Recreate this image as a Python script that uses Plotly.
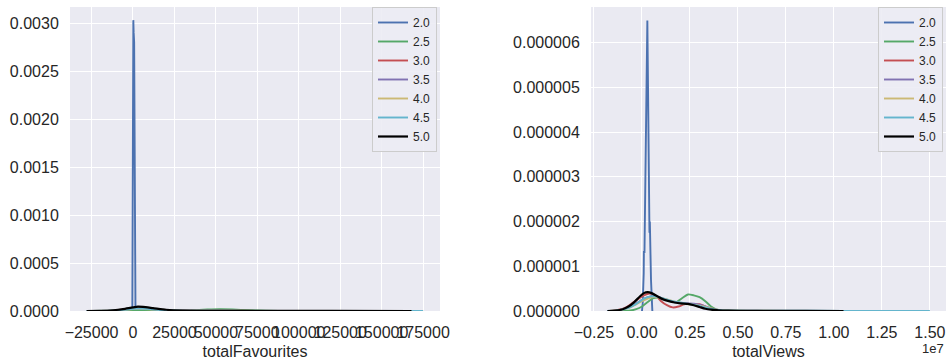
import plotly.graph_objects as go

# ---------------- data ----------------
ratings = ["2.0", "2.5", "3.0", "3.5", "4.0", "4.5", "5.0"]
colors = ["#4C72B0", "#55A868", "#C44E52", "#8172B2", "#CCB974", "#64B5CD", "#000000"]

# Left panel: KDE of totalFavourites
fav_x_20 = [-400, 0, 200, 400, 700, 900, 1100, 1500]
fav_y_20 = [0, 0.0015, 0.00303, 0.0029, 0.0028, 0.0020, 0.0010, 0]
fav_x_25 = [-25000, -12000, -4000, 5000, 15000, 25000, 35000, 45000, 52000, 60000, 70000, 80000, 95000, 115000]
fav_y_25 = [0, 0.000003, 0.000007, 0.00001, 0.000008, 0.000006, 0.000008, 0.000015, 0.000018, 0.000016, 0.000008, 0.000003, 0.000001, 0]
fav_x_30 = [-27000, -15000, -7000, 0, 4000, 10000, 18000, 30000, 50000, 80000, 110000]
fav_y_30 = [0, 0.000003, 0.000014, 0.000028, 0.00003, 0.000024, 0.000012, 0.000005, 0.000003, 0.000001, 0]
fav_x_35 = [-27000, -15000, -7000, 0, 4000, 10000, 18000, 30000, 50000, 80000, 120000]
fav_y_35 = [0, 0.000003, 0.000012, 0.000024, 0.000026, 0.000021, 0.00001, 0.000005, 0.000002, 0.000001, 0]
fav_x_40 = [-27000, -15000, -7000, 0, 4000, 10000, 18000, 30000, 60000, 100000, 140000, 175000]
fav_y_40 = [0, 0.000003, 0.00001, 0.00002, 0.000022, 0.000019, 0.00001, 0.000004, 0.000002, 0.000001, 0.0000005, 0]
fav_x_45 = [-28000, -15000, -7000, 0, 4000, 10000, 18000, 30000, 60000, 100000, 140000, 175000]
fav_y_45 = [0, 0.000003, 0.000011, 0.000022, 0.000025, 0.00002, 0.00001, 0.000004, 0.000002, 0.000001, 0.0000006, 0]
fav_x_50 = [-28000, -20000, -12000, -6000, 0, 3000, 6000, 12000, 20000, 30000, 45000, 60000, 80000, 120000, 168000]
fav_y_50 = [0, 0.000001, 0.000008, 0.00002, 0.000038, 0.000045, 0.000042, 0.00003, 0.000013, 0.000004, 0.000002, 0.0000015, 0.000001, 0.0000005, 0]

# Right panel: KDE of totalViews
view_x_20 = [0.000e7, 0.004e7, 0.009e7, 0.010e7, 0.0115e7, 0.013e7, 0.028e7, 0.037e7, 0.039e7, 0.041e7, 0.043e7, 0.047e7, 0.054e7]
view_y_20 = [0, 0.2e-6, 0.84e-6, 1.34e-6, 1.25e-6, 1.3e-6, 6.5e-6, 2.05e-6, 1.75e-6, 2.0e-6, 1.5e-6, 0.7e-6, 0]
view_x_25 = [-0.10e7, -0.06e7, -0.03e7, 0.0, 0.03e7, 0.06e7, 0.09e7, 0.12e7, 0.15e7, 0.18e7, 0.21e7, 0.24e7, 0.27e7, 0.30e7, 0.33e7, 0.36e7, 0.39e7, 0.43e7, 0.5e7, 0.6e7, 0.8e7]
view_y_25 = [0, 0.01e-6, 0.04e-6, 0.1e-6, 0.2e-6, 0.29e-6, 0.3e-6, 0.26e-6, 0.21e-6, 0.2e-6, 0.29e-6, 0.37e-6, 0.35e-6, 0.31e-6, 0.22e-6, 0.1e-6, 0.03e-6, 0.01e-6, 0.005e-6, 0.002e-6, 0]
view_x_30 = [-0.17e7, -0.12e7, -0.08e7, -0.05e7, -0.02e7, 0.01e7, 0.04e7, 0.06e7, 0.08e7, 0.10e7, 0.13e7, 0.16e7, 0.19e7, 0.22e7, 0.26e7, 0.30e7, 0.33e7, 0.36e7, 0.40e7, 0.45e7, 0.55e7, 0.7e7]
view_y_30 = [0, 0.03e-6, 0.09e-6, 0.18e-6, 0.27e-6, 0.35e-6, 0.39e-6, 0.37e-6, 0.31e-6, 0.22e-6, 0.13e-6, 0.08e-6, 0.10e-6, 0.15e-6, 0.16e-6, 0.15e-6, 0.1e-6, 0.05e-6, 0.02e-6, 0.008e-6, 0.003e-6, 0]
view_x_35 = [-0.18e7, -0.12e7, -0.07e7, -0.03e7, 0.0, 0.03e7, 0.06e7, 0.09e7, 0.12e7, 0.16e7, 0.20e7, 0.24e7, 0.28e7, 0.32e7, 0.36e7, 0.40e7, 0.45e7, 0.6e7, 0.8e7, 1.0e7]
view_y_35 = [0, 0.02e-6, 0.08e-6, 0.17e-6, 0.25e-6, 0.31e-6, 0.33e-6, 0.31e-6, 0.26e-6, 0.21e-6, 0.18e-6, 0.17e-6, 0.16e-6, 0.12e-6, 0.06e-6, 0.02e-6, 0.008e-6, 0.004e-6, 0.002e-6, 0]
view_x_40 = [-0.17e7, -0.12e7, -0.07e7, -0.03e7, 0.0, 0.03e7, 0.06e7, 0.09e7, 0.12e7, 0.16e7, 0.20e7, 0.24e7, 0.28e7, 0.32e7, 0.36e7, 0.40e7, 0.45e7, 0.6e7, 0.9e7, 1.2e7]
view_y_40 = [0, 0.02e-6, 0.07e-6, 0.15e-6, 0.22e-6, 0.28e-6, 0.31e-6, 0.30e-6, 0.27e-6, 0.22e-6, 0.18e-6, 0.15e-6, 0.13e-6, 0.1e-6, 0.06e-6, 0.025e-6, 0.01e-6, 0.005e-6, 0.003e-6, 0]
view_x_45 = [-0.18e7, -0.12e7, -0.07e7, -0.03e7, 0.0, 0.03e7, 0.06e7, 0.09e7, 0.12e7, 0.16e7, 0.20e7, 0.24e7, 0.28e7, 0.32e7, 0.36e7, 0.40e7, 0.45e7, 0.6e7, 0.9e7, 1.2e7, 1.5e7]
view_y_45 = [0, 0.02e-6, 0.07e-6, 0.16e-6, 0.25e-6, 0.31e-6, 0.33e-6, 0.31e-6, 0.27e-6, 0.22e-6, 0.19e-6, 0.16e-6, 0.13e-6, 0.09e-6, 0.05e-6, 0.025e-6, 0.01e-6, 0.006e-6, 0.004e-6, 0.002e-6, 0]
view_x_50 = [-0.18e7, -0.14e7, -0.10e7, -0.07e7, -0.04e7, -0.01e7, 0.01e7, 0.03e7, 0.05e7, 0.08e7, 0.11e7, 0.14e7, 0.17e7, 0.20e7, 0.24e7, 0.27e7, 0.30e7, 0.33e7, 0.36e7, 0.40e7, 0.45e7, 0.55e7, 0.70e7, 0.85e7, 1.05e7]
view_y_50 = [0, 0.01e-6, 0.04e-6, 0.1e-6, 0.2e-6, 0.33e-6, 0.40e-6, 0.42e-6, 0.40e-6, 0.33e-6, 0.26e-6, 0.22e-6, 0.19e-6, 0.17e-6, 0.16e-6, 0.13e-6, 0.09e-6, 0.05e-6, 0.03e-6, 0.015e-6, 0.008e-6, 0.005e-6, 0.004e-6, 0.003e-6, 0]

fav_tickvals = [-25000, 0, 25000, 50000, 75000, 100000, 125000, 150000, 175000]
fav_ticktext = ["\u221225000", "0", "25000", "50000", "75000", "100000", "125000", "150000", "175000"]
view_tickvals = [-0.25e7, 0.0, 0.25e7, 0.5e7, 0.75e7, 1.0e7, 1.25e7, 1.5e7]
view_ticktext = ["\u22120.25", "0.00", "0.25", "0.50", "0.75", "1.00", "1.25", "1.50"]

fav_series = [(fav_x_20, fav_y_20), (fav_x_25, fav_y_25), (fav_x_30, fav_y_30), (fav_x_35, fav_y_35),
              (fav_x_40, fav_y_40), (fav_x_45, fav_y_45), (fav_x_50, fav_y_50)]
view_series = [(view_x_20, view_y_20), (view_x_25, view_y_25), (view_x_30, view_y_30), (view_x_35, view_y_35),
               (view_x_40, view_y_40), (view_x_45, view_y_45), (view_x_50, view_y_50)]

# ---------------- figure ----------------
FONT = "Liberation Sans, Arial, sans-serif"
TXT = "#262626"
W, H = 946, 360

fig = go.Figure()
for i, (lab, col) in enumerate(zip(ratings, colors)):
    x, y = fav_series[i]
    fig.add_trace(go.Scatter(x=x, y=y, mode="lines", name=lab, legend="legend",
                             line=dict(color=col, width=1.9 if i < 6 else 2.2,
                                       shape="linear" if i == 0 else "spline", smoothing=0.6),
                             xaxis="x", yaxis="y"))
for i, (lab, col) in enumerate(zip(ratings, colors)):
    x, y = view_series[i]
    fig.add_trace(go.Scatter(x=x, y=y, mode="lines", name=lab, legend="legend2",
                             line=dict(color=col, width=1.9 if i < 6 else 2.2,
                                       shape="linear" if i == 0 else "spline", smoothing=0.6),
                             xaxis="x2", yaxis="y2"))

ydom = [(H - 311) / H, (H - 7) / H]
common_axis = dict(showgrid=True, gridcolor="white", gridwidth=1.3, zeroline=False,
                   showline=False, ticks="outside", tickcolor="rgba(0,0,0,0)", ticklen=7,
                   tickangle=0,
                   tickfont=dict(family=FONT, size=16, color=TXT), automargin=False)

fig.update_layout(
    width=W, height=H,
    margin=dict(l=0, r=0, t=0, b=0),
    paper_bgcolor="white", plot_bgcolor="#EAEAF2",
    font=dict(family=FONT, color=TXT),
    xaxis=dict(domain=[70 / W, 440 / W], range=[-38000, 185200], tickvals=fav_tickvals,
               ticktext=fav_ticktext, anchor="y",
               title=dict(text="totalFavourites", font=dict(family=FONT, size=16, color=TXT), standoff=5),
               **common_axis),
    yaxis=dict(domain=ydom, range=[0, 0.003167], dtick=0.0005, tickformat=".4f", anchor="x",
               **common_axis),
    xaxis2=dict(domain=[591 / W, 1.0], range=[-0.2656e7, 1.584e7], tickvals=view_tickvals,
                ticktext=view_ticktext, anchor="y2",
                title=dict(text="totalViews", font=dict(family=FONT, size=16, color=TXT), standoff=5),
                **common_axis),
    yaxis2=dict(domain=ydom, range=[0, 6.8e-6], dtick=1e-6, tickformat=".6f", anchor="x2",
                **common_axis),
    legend=dict(x=437 / W, y=1 - 7 / H, xanchor="right", yanchor="top",
                bgcolor="rgba(236,236,244,0.9)", bordercolor="#CCCCCC", borderwidth=1,
                font=dict(family=FONT, size=12, color=TXT), tracegroupgap=0),
    legend2=dict(x=943 / W, y=1 - 7 / H, xanchor="right", yanchor="top",
                 bgcolor="rgba(236,236,244,0.9)", bordercolor="#CCCCCC", borderwidth=1,
                 font=dict(family=FONT, size=12, color=TXT), tracegroupgap=0),
    annotations=[dict(text="1e7", xref="paper", yref="paper", x=1.0, y=1 - 348 / H,
                      xanchor="right", yanchor="middle", showarrow=False,
                      font=dict(family=FONT, size=13, color=TXT))],
)

fig.write_html("out.html", config={"displayModeBar": False},
               post_script="document.body.style.margin='0';document.body.style.overflow='hidden';")
